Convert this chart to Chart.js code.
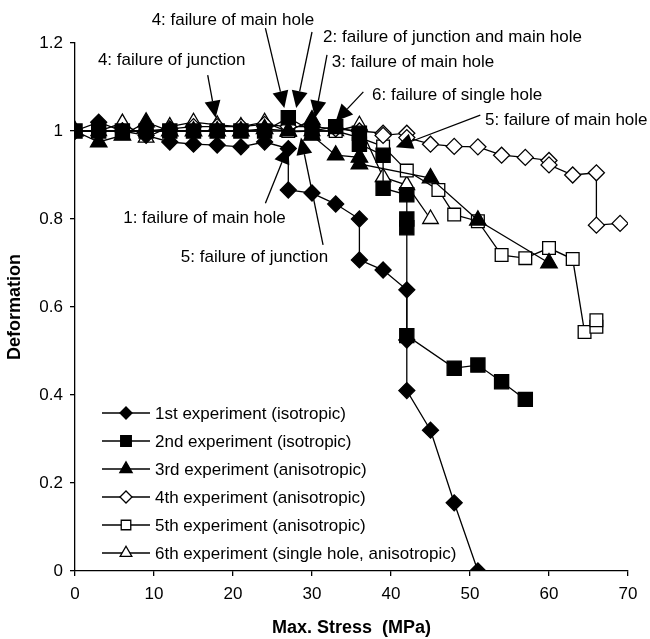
<!DOCTYPE html>
<html>
<head>
<meta charset="UTF-8">
<title>Deformation vs Max. Stress</title>
<script src="https://cdn.jsdelivr.net/npm/chart.js"></script>
<style>
  html, body { margin: 0; padding: 0; background: #fff; }
  #wrap { width: 650px; height: 639px; }
</style>
</head>
<body>
<div id="wrap"><canvas id="c" width="650" height="639"></canvas></div>
<script>
// ---- data ----
const xTicks = [0, 10, 20, 30, 40, 50, 60, 70];
const yTicks = [0, 0.2, 0.4, 0.6, 0.8, 1, 1.2];

const exp1Stress = [0, 3, 6, 9, 12, 15, 18, 21, 24, 27, 27, 30, 33, 36, 36, 39, 42, 42, 42, 45, 48, 51];
const exp1Deform = [1.0, 1.02, 1.0, 0.99, 0.975, 0.97, 0.968, 0.964, 0.975, 0.96, 0.866, 0.859, 0.834, 0.80, 0.707, 0.684, 0.639, 0.525, 0.41, 0.32, 0.155, 0];

const exp2Stress = [0, 3, 6, 9, 12, 15, 18, 21, 24, 27, 30, 33, 36, 36, 39, 39, 42, 42, 42, 42, 48, 51, 54, 57];
const exp2Deform = [1.0, 1.0, 1.0, 1.0, 1.0, 1.0, 1.0, 1.0, 1.0, 1.03, 1.0, 1.01, 0.995, 0.97, 0.945, 0.87, 0.855, 0.80, 0.78, 0.535, 0.461, 0.468, 0.43, 0.39];

const exp3Stress = [0, 3, 6, 9, 12, 15, 18, 21, 24, 27, 30, 30, 33, 36, 36, 45, 51, 60];
const exp3Deform = [1.0, 0.975, 0.99, 1.02, 1.0, 1.0, 1.0, 1.0, 1.005, 1.0, 1.025, 0.99, 0.945, 0.94, 0.925, 0.893, 0.797, 0.70];

const exp4Stress = [0, 3, 6, 9, 12, 15, 18, 21, 24, 27, 30, 33, 36, 39, 39, 42, 42, 45, 48, 51, 54, 57, 60, 60, 63, 66, 66, 69];
const exp4Deform = [1.0, 1.0, 1.0, 1.0, 1.005, 1.01, 1.01, 1.01, 1.015, 1.01, 1.01, 1.005, 1.0, 0.995, 0.99, 0.995, 0.985, 0.97, 0.965, 0.964, 0.945, 0.94, 0.933, 0.923, 0.9, 0.905, 0.786, 0.79];

const exp5Stress = [0, 3, 6, 9, 12, 15, 18, 21, 24, 27, 30, 33, 36, 39, 42, 46, 48, 51, 54, 57, 60, 63, 64.5, 66, 66];
const exp5Deform = [1.0, 1.0, 1.0, 1.0, 1.0, 1.0, 1.0, 1.0, 1.0, 1.0, 1.0, 1.0, 0.985, 0.965, 0.91, 0.866, 0.81, 0.795, 0.718, 0.711, 0.734, 0.709, 0.543, 0.555, 0.57];

const exp6Stress = [0, 3, 6, 9, 12, 15, 18, 21, 24, 27, 30, 33, 36, 39, 42, 45];
const exp6Deform = [1.0, 1.0, 1.018, 0.985, 1.01, 1.02, 1.014, 1.01, 1.02, 0.998, 1.0, 1.0, 1.013, 0.895, 0.877, 0.80];

const seriesNames = [
  '1st experiment (isotropic)',
  '2nd experiment (isotropic)',
  '3rd experiment (anisotropic)',
  '4th experiment (anisotropic)',
  '5th experiment (anisotropic)',
  '6th experiment (single hole, anisotropic)'
];

// annotations, all in data units: text left/middle point, arrow start, arrow tip
const noteLabels = [
  '4: failure of main hole',
  '2: failure of junction and main hole',
  '4: failure of junction',
  '3: failure of main hole',
  '6: failure of single hole',
  '5: failure of main hole',
  '1: failure of main hole',
  '5: failure of junction'
];
const noteTextX = [9.7, 31.4, 2.9, 32.5, 37.6, 51.9, 6.1, 13.4];
const noteTextY = [1.252, 1.214, 1.161, 1.157, 1.082, 1.025, 0.802, 0.714];
const noteFromX = [24.1, 30.0, 16.8, 31.9, 36.5, 51.3, 24.1, 31.4];
const noteFromY = [1.234, 1.225, 1.127, 1.173, 1.089, 1.036, 0.836, 0.741];
const noteTipX = [26.5, 28.0, 17.8, 30.4, 33.0, 40.6, 27.0, 28.6];
const noteTipY = [1.052, 1.052, 1.03, 1.03, 1.022, 0.963, 0.965, 0.985];

// ---- build chart ----
const FONT = '"Liberation Sans", Arial, sans-serif';
const styles = [
  { pointStyle: 'rectRot', radius: 8, fill: '#000' },
  { pointStyle: 'rect', radius: 10, fill: '#000' },
  { pointStyle: 'triangle', radius: 9.5, fill: '#000' },
  { pointStyle: 'rectRot', radius: 8, fill: '#fff' },
  { pointStyle: 'rect', radius: 9, fill: '#fff' },
  { pointStyle: 'triangle', radius: 9, fill: '#fff' }
];
const xs = [exp1Stress, exp2Stress, exp3Stress, exp4Stress, exp5Stress, exp6Stress];
const ys = [exp1Deform, exp2Deform, exp3Deform, exp4Deform, exp5Deform, exp6Deform];

const datasets = seriesNames.map((name, i) => ({
  label: name,
  data: xs[i].map((x, j) => ({ x: x, y: ys[i][j] })),
  showLine: true,
  borderColor: '#000',
  borderWidth: 1.3,
  tension: 0,
  pointStyle: styles[i].pointStyle,
  pointRadius: styles[i].radius,
  pointBackgroundColor: styles[i].fill,
  pointBorderColor: '#000',
  pointBorderWidth: 1.3
}));

const overlay = {
  id: 'overlay',
  afterDraw(chart) {
    const ctx = chart.ctx;
    const sx = chart.scales.x, sy = chart.scales.y;
    ctx.save();
    ctx.fillStyle = '#000';
    ctx.strokeStyle = '#000';
    ctx.lineWidth = 1.3;
    ctx.font = '17px ' + FONT;
    ctx.textBaseline = 'middle';
    ctx.textAlign = 'left';
    // annotations
    noteLabels.forEach((t, i) => {
      ctx.fillText(t, sx.getPixelForValue(noteTextX[i]), sy.getPixelForValue(noteTextY[i]));
      const x0 = sx.getPixelForValue(noteFromX[i]), y0 = sy.getPixelForValue(noteFromY[i]);
      const x1 = sx.getPixelForValue(noteTipX[i]), y1 = sy.getPixelForValue(noteTipY[i]);
      const a = Math.atan2(y1 - y0, x1 - x0);
      const len = 17, half = 8;
      const bx = x1 - Math.cos(a) * len, by = y1 - Math.sin(a) * len;
      ctx.beginPath();
      ctx.moveTo(x0, y0);
      ctx.lineTo(bx, by);
      ctx.stroke();
      ctx.beginPath();
      ctx.moveTo(x1, y1);
      ctx.lineTo(bx + Math.sin(a) * half, by - Math.cos(a) * half);
      ctx.lineTo(bx - Math.sin(a) * half, by + Math.cos(a) * half);
      ctx.closePath();
      ctx.fill();
    });
    // legend inside plot, lower left
    const area = chart.chartArea;
    const lx = area.left + 27;
    seriesNames.forEach((name, i) => {
      const y = area.bottom - 158 + i * 28;
      ctx.strokeStyle = '#000';
      ctx.lineWidth = 1.3;
      ctx.beginPath();
      ctx.moveTo(lx, y);
      ctx.lineTo(lx + 48, y);
      ctx.stroke();
      ctx.fillStyle = styles[i].fill;
      Chart.helpers.drawPoint(ctx, {
        pointStyle: styles[i].pointStyle,
        radius: styles[i].radius * 0.75,
        rotation: 0,
        borderWidth: 1.3
      }, lx + 24, y);
      ctx.fillStyle = '#000';
      ctx.fillText(name, lx + 53, y + 1);
    });
    ctx.restore();
  }
};

new Chart(document.getElementById('c'), {
  type: 'scatter',
  data: { datasets: datasets },
  options: {
    responsive: false,
    animation: false,
    devicePixelRatio: 1,
    layout: { padding: { top: 43, right: 22, left: 0, bottom: 0 } },
    plugins: { legend: { display: false }, tooltip: { enabled: false } },
    scales: {
      x: {
        type: 'linear',
        min: 0,
        max: 70,
        afterBuildTicks: s => { s.ticks = xTicks.map(v => ({ value: v })); },
        afterFit: s => { s.height = 68; },
        ticks: { color: '#000', font: { family: FONT, size: 17 }, padding: 8, maxRotation: 0, autoSkip: false },
        grid: { drawOnChartArea: false, tickLength: 5, color: '#000', lineWidth: 1.3 },
        border: { color: '#000', width: 1.3 },
        title: { display: true, text: 'Max. Stress  (MPa)', color: '#000', font: { family: FONT, size: 18, weight: 'bold' }, padding: 0 }
      },
      y: {
        type: 'linear',
        min: 0,
        max: 1.2,
        afterBuildTicks: s => { s.ticks = yTicks.map(v => ({ value: v })); },
        afterFit: s => { s.width = 75; },
        ticks: { color: '#000', font: { family: FONT, size: 17 }, padding: 7, callback: v => String(+v.toFixed(1)) },
        grid: { drawOnChartArea: false, tickLength: 5, color: '#000', lineWidth: 1.3 },
        border: { color: '#000', width: 1.3 },
        title: { display: true, text: 'Deformation', color: '#000', font: { family: FONT, size: 18, weight: 'bold' }, padding: 4 }
      }
    }
  },
  plugins: [overlay]
});
</script>
</body>
</html>
